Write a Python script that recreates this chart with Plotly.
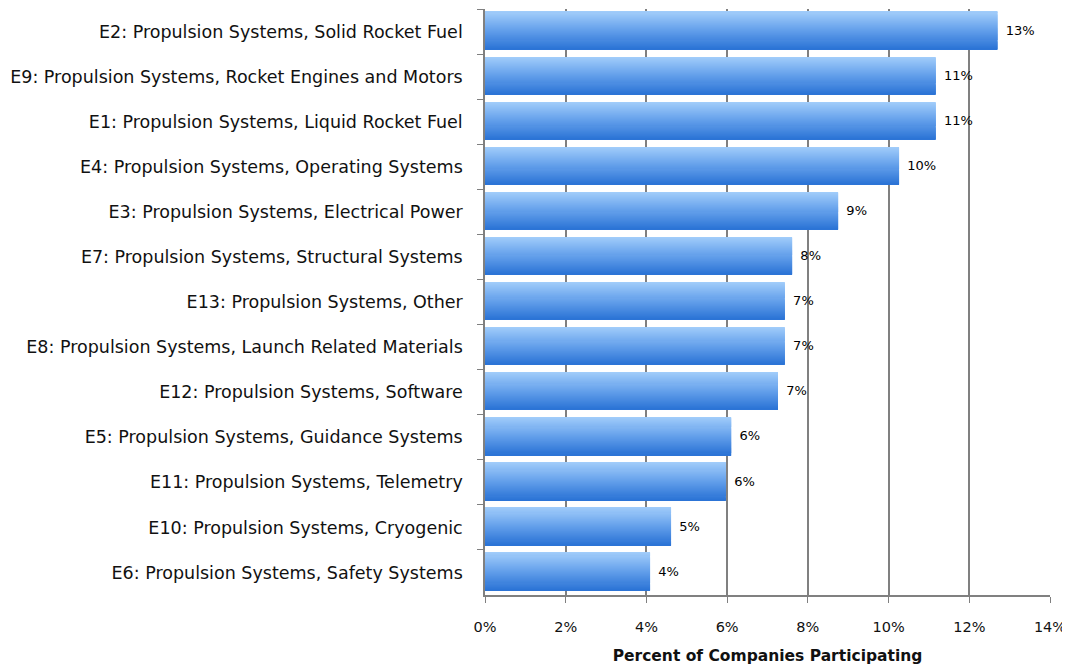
import plotly.graph_objects as go

categories = [
    "E2: Propulsion Systems, Solid Rocket Fuel",
    "E9: Propulsion Systems, Rocket Engines and Motors",
    "E1: Propulsion Systems, Liquid Rocket Fuel",
    "E4: Propulsion Systems, Operating Systems",
    "E3: Propulsion Systems, Electrical Power",
    "E7: Propulsion Systems, Structural Systems",
    "E13: Propulsion Systems, Other",
    "E8: Propulsion Systems, Launch Related Materials",
    "E12: Propulsion Systems, Software",
    "E5: Propulsion Systems, Guidance Systems",
    "E11: Propulsion Systems, Telemetry",
    "E10: Propulsion Systems, Cryogenic",
    "E6: Propulsion Systems, Safety Systems",
]
values = [0.127, 0.1117, 0.1117, 0.1026, 0.0875, 0.0761, 0.0743, 0.0743, 0.0726, 0.061, 0.0597, 0.0461, 0.0409]
labels = ["13%", "11%", "11%", "10%", "9%", "8%", "7%", "7%", "7%", "6%", "6%", "5%", "4%"]
xticks = [0, 0.02, 0.04, 0.06, 0.08, 0.10, 0.12, 0.14]
xticktext = ["0%", "2%", "4%", "6%", "8%", "10%", "12%", "14%"]

top_rgb = (160, 204, 250)
mid_rgb = (100, 160, 235)
bot_rgb = (44, 116, 214)

def lerp(a, b, t):
    return tuple(int(round(a[k] + (b[k] - a[k]) * t)) for k in range(3))

FONT = "DejaVu Sans, sans-serif"
N = 36
W = 0.83
fig = go.Figure()
for i in range(N):
    t = i / (N - 1)
    if t < 0.5:
        c = lerp(top_rgb, mid_rgb, t / 0.5)
    else:
        c = lerp(mid_rgb, bot_rgb, (t - 0.5) / 0.5)
    fig.add_trace(go.Bar(
        x=values, y=categories, orientation="h",
        width=W / N * (1.6 if i < N - 1 else 1.0), offset=-W / 2 - 0.02 + i * W / N,
        marker=dict(color="rgb(%d,%d,%d)" % c, line=dict(width=0)),
        hoverinfo="skip", showlegend=False,
    ))

fig.add_trace(go.Scatter(
    x=values, y=categories, mode="text", text=["  " + s for s in labels],
    textposition="middle right",
    textfont=dict(family=FONT, size=13, color="#000"),
    showlegend=False, hoverinfo="skip", cliponaxis=False,
))

fig.update_layout(
    width=1062, height=659,
    margin=dict(l=477, r=20, t=1, b=72),
    barmode="overlay",
    plot_bgcolor="white", paper_bgcolor="white",
    font=dict(family=FONT, color="#111"),
)
fig.update_xaxes(
    range=[0, 0.14], tickvals=xticks, ticktext=xticktext,
    showgrid=True, gridcolor="#808080", gridwidth=1.5,
    showline=True, linecolor="#808080", linewidth=1.5,
    ticks="outside", ticklen=6, tickcolor="#808080",
    tickfont=dict(size=14.5, color="#111"),
    ticklabelstandoff=12,
    title=dict(text="<b>Percent of Companies Participating</b>", font=dict(size=15.5, color="#111"), standoff=16),
    zeroline=False,
)
fig.update_yaxes(
    range=[len(categories) - 0.5, -0.5], type="category",
    showline=True, linecolor="#808080", linewidth=1.5,
    ticks="outside", ticklen=6, tickcolor="#808080", tickson="boundaries",
    tickfont=dict(size=17.5, color="#111"),
    ticklabelstandoff=17,
    showgrid=False,
)

fig.write_html("out.html")
